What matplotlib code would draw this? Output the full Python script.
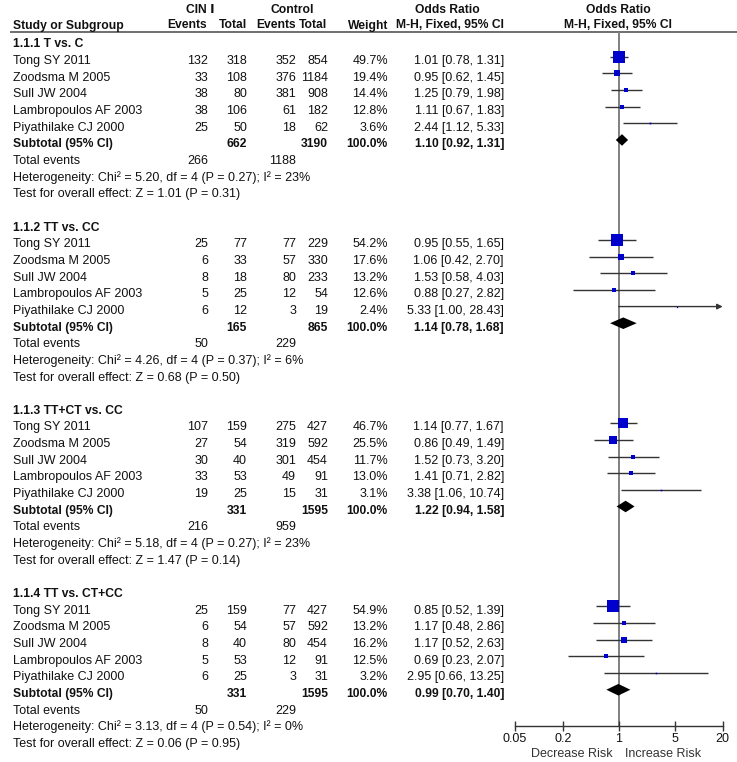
import matplotlib
matplotlib.use("Agg")
import matplotlib.pyplot as plt
from matplotlib.ticker import NullLocator

plt.rcParams['font.family'] = ['Liberation Sans', 'DejaVu Sans']

# ---------------- data ----------------
subgroups = ["1.1.1 T vs. C", "1.1.2 TT vs. CC", "1.1.3 TT+CT vs. CC", "1.1.4 TT vs. CT+CC"]
studies = ["Tong SY 2011", "Zoodsma M 2005", "Sull JW 2004", "Lambropoulos AF 2003", "Piyathilake CJ 2000"]

cin_events = [[132, 33, 38, 38, 25], [25, 6, 8, 5, 6], [107, 27, 30, 33, 19], [25, 6, 8, 5, 6]]
cin_total = [[318, 108, 80, 106, 50], [77, 33, 18, 25, 12], [159, 54, 40, 53, 25], [159, 54, 40, 53, 25]]
ctrl_events = [[352, 376, 381, 61, 18], [77, 57, 80, 12, 3], [275, 319, 301, 49, 15], [77, 57, 80, 12, 3]]
ctrl_total = [[854, 1184, 908, 182, 62], [229, 330, 233, 54, 19], [427, 592, 454, 91, 31], [427, 592, 454, 91, 31]]
weights = [[49.7, 19.4, 14.4, 12.8, 3.6], [54.2, 17.6, 13.2, 12.6, 2.4],
           [46.7, 25.5, 11.7, 13.0, 3.1], [54.9, 13.2, 16.2, 12.5, 3.2]]
or_est = [[1.01, 0.95, 1.25, 1.11, 2.44], [0.95, 1.06, 1.53, 0.88, 5.33],
          [1.14, 0.86, 1.52, 1.41, 3.38], [0.85, 1.17, 1.17, 0.69, 2.95]]
or_lo = [[0.78, 0.62, 0.79, 0.67, 1.12], [0.55, 0.42, 0.58, 0.27, 1.00],
         [0.77, 0.49, 0.73, 0.71, 1.06], [0.52, 0.48, 0.52, 0.23, 0.66]]
or_hi = [[1.31, 1.45, 1.98, 1.83, 5.33], [1.65, 2.70, 4.03, 2.82, 28.43],
         [1.67, 1.49, 3.20, 2.82, 10.74], [1.39, 2.86, 2.63, 2.07, 13.25]]

sub_cin_total = [662, 165, 331, 331]
sub_ctrl_total = [3190, 865, 1595, 1595]
sub_or = [1.10, 1.14, 1.22, 0.99]
sub_lo = [0.92, 0.78, 0.94, 0.70]
sub_hi = [1.31, 1.68, 1.58, 1.40]
tot_cin_events = [266, 50, 216, 50]
tot_ctrl_events = [1188, 229, 959, 229]
chi2 = [5.20, 4.26, 5.18, 3.13]
het_df = [4, 4, 4, 4]
het_p = [0.27, 0.37, 0.27, 0.54]
i2 = [23, 6, 23, 0]
z_val = [1.01, 0.68, 1.47, 0.06]
z_p = [0.31, 0.50, 0.14, 0.95]

xticks = [0.05, 0.2, 1, 5, 20]
xtick_labels = ["0.05", "0.2", "1", "5", "20"]

# ---------------- layout ----------------
W, H = 737, 762
fig = plt.figure(figsize=(W / 100, H / 100), dpi=100)
tx = fig.add_axes([0, 0, 1, 1])
tx.set_xlim(0, W)
tx.set_ylim(H, 0)
tx.axis('off')

FS = 9
FSB = 8.7
TC = '#111111'
ROW0 = 47.3
ROWH = 16.66

X_NAME = 13
X_CE, X_CT, X_KE, X_KT, X_W, X_OR = 208, 247, 296, 328, 388, 504
X_PLOT = 618


def base(r):
    return ROW0 + ROWH * r


def t(x, y, s, ha='right', bold=False, color=TC):
    tx.text(x, y, s, ha=ha, va='baseline', fontsize=FSB if bold else FS, color=color,
            fontweight='bold' if bold else 'normal')


# header
t(200, 13, "CIN Ⅰ", ha='center', bold=True)
t(292, 13, "Control", ha='center', bold=True)
t(447, 13, "Odds Ratio", ha='center', bold=True)
t(X_PLOT, 13, "Odds Ratio", ha='center', bold=True)
t(X_NAME, 28.5, "Study or Subgroup", ha='left', bold=True)
t(X_CE - 1, 28.5, "Events", bold=True)
t(X_CT, 28.5, "Total", bold=True)
t(X_KE, 28.5, "Events", bold=True)
t(X_KT - 1, 28.5, "Total", bold=True)
t(X_W, 28.5, "Weight", bold=True)
t(X_OR, 28.5, "M-H, Fixed, 95% CI", bold=True)
t(X_PLOT, 28.5, "M-H, Fixed, 95% CI", ha='center', bold=True)
tx.plot([10, W], [32, 32], color='#555555', lw=1.2, solid_capstyle='butt')

for k in range(4):
    r0 = 11 * k
    t(X_NAME, base(r0), subgroups[k], ha='left', bold=True)
    for j in range(5):
        y = base(r0 + 1 + j)
        t(X_NAME, y, studies[j], ha='left')
        t(X_CE, y, str(cin_events[k][j]))
        t(X_CT, y, str(cin_total[k][j]))
        t(X_KE, y, str(ctrl_events[k][j]))
        t(X_KT, y, str(ctrl_total[k][j]))
        t(X_W, y, f"{weights[k][j]:.1f}%")
        t(X_OR, y, f"{or_est[k][j]:.2f} [{or_lo[k][j]:.2f}, {or_hi[k][j]:.2f}]")
    y = base(r0 + 6)
    t(X_NAME, y, "Subtotal (95% CI)", ha='left', bold=True)
    t(X_CT, y, str(sub_cin_total[k]), bold=True)
    t(X_KT, y, str(sub_ctrl_total[k]), bold=True)
    t(X_W, y, "100.0%", bold=True)
    t(X_OR, y, f"{sub_or[k]:.2f} [{sub_lo[k]:.2f}, {sub_hi[k]:.2f}]", bold=True)
    y = base(r0 + 7)
    t(X_NAME, y, "Total events", ha='left')
    t(X_CE, y, str(tot_cin_events[k]))
    t(X_KE, y, str(tot_ctrl_events[k]))
    t(X_NAME, base(r0 + 8),
      f"Heterogeneity: Chi² = {chi2[k]:.2f}, df = {het_df[k]} (P = {het_p[k]:.2f}); I² = {i2[k]}%",
      ha='left')
    t(X_NAME, base(r0 + 9), f"Test for overall effect: Z = {z_val[k]:.2f} (P = {z_p[k]:.2f})", ha='left')

# ---------------- forest plot ----------------
px_left, px_right = 514.7, 722.7
px_top, px_bot = 32, 726
ax = fig.add_axes([px_left / W, (H - px_bot) / H, (px_right - px_left) / W, (px_bot - px_top) / H])
ax.patch.set_alpha(0)
ax.set_xscale('log')
ax.set_xlim(xticks[0], xticks[-1])
MARK0 = 40.0  # pixel centre of row 0 marks
ax.set_ylim((px_bot - MARK0) / ROWH, (px_top - MARK0) / ROWH)
for s in ['left', 'right', 'top']:
    ax.spines[s].set_visible(False)
ax.spines['bottom'].set_color('#333333')
ax.spines['bottom'].set_linewidth(1.0)
ax.set_yticks([])
ax.set_xticks(xticks)
ax.set_xticklabels(xtick_labels)
ax.xaxis.set_minor_locator(NullLocator())
ax.tick_params(axis='x', direction='inout', length=7, width=1.0, color='#333333',
               labelsize=FS, labelcolor=TC, pad=1.5)

ax.axvline(1, color='#808080', lw=1.4, zorder=1)

LC = '#333333'
BLUE = '#0000CC'
for k in range(4):
    r0 = 11 * k
    for j in range(5):
        r = r0 + 1 + j
        lo, hi, est = or_lo[k][j], or_hi[k][j], or_est[k][j]
        if hi > xticks[-1]:
            ax.annotate('', xy=(xticks[-1], r), xytext=(lo, r),
                        arrowprops=dict(arrowstyle='-|>', color=LC, lw=1.0,
                                        mutation_scale=8, shrinkA=0, shrinkB=0),
                        annotation_clip=False, zorder=2)
        else:
            ax.plot([lo, hi], [r, r], color=LC, lw=1.0, zorder=2, solid_capstyle='butt')
        side_px = 11.5 * (weights[k][j] / 50.0) ** 0.72
        ax.plot([est], [r], marker='s', ms=side_px * 0.72, color=BLUE,
                markeredgewidth=0, zorder=3, clip_on=False)
    r = r0 + 6
    h = 5.8 / ROWH
    ax.fill([sub_lo[k], sub_or[k], sub_hi[k], sub_or[k]], [r, r - h, r, r + h],
            color='black', zorder=3, lw=0)

t(613, 757, "Decrease Risk", ha='right', color='#333333')
t(625, 757, "Increase Risk", ha='left', color='#333333')

fig.savefig('out.png', dpi=100)
